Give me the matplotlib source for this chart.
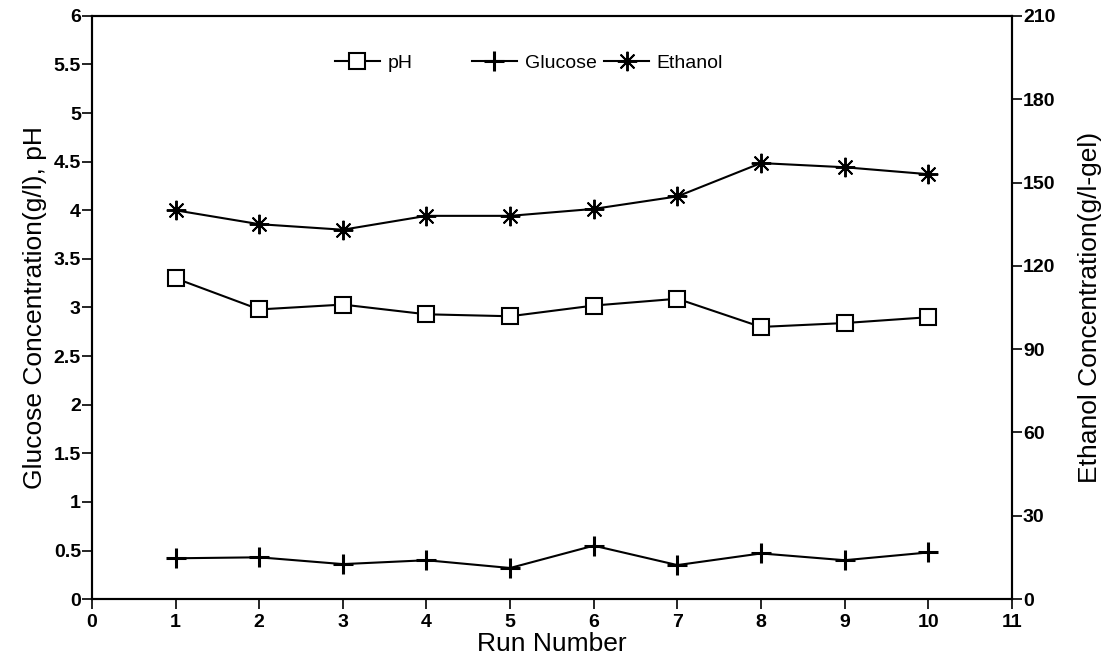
import matplotlib
matplotlib.use("Agg")
import matplotlib.pyplot as plt
from matplotlib.ticker import FormatStrFormatter

plt.rcParams['font.family'] = ['Liberation Sans', 'DejaVu Sans']

runs = [1, 2, 3, 4, 5, 6, 7, 8, 9, 10]
ph = [3.30, 2.98, 3.03, 2.93, 2.91, 3.02, 3.09, 2.80, 2.84, 2.90]
glucose = [0.42, 0.43, 0.36, 0.40, 0.32, 0.55, 0.35, 0.47, 0.40, 0.48]
ethanol = [140, 135, 133, 138, 138, 140.5, 145, 157, 155.5, 153]

fig = plt.figure(figsize=(11.15, 6.62), dpi=100)
ax = fig.add_axes([0.0825, 0.095, 0.825, 0.881])
ax2 = ax.twinx()

l1, = ax.plot(runs, ph, color='black', lw=1.5, marker='s', ms=12,
              mfc='white', mec='black', mew=1.5, label='pH')
l2, = ax.plot(runs, glucose, color='black', lw=1.5, marker='+', ms=14,
              mew=2.2, label='Glucose')
l3, = ax2.plot(runs, ethanol, color='black', lw=1.5, marker=(8, 2, 0), ms=14,
               mew=1.4, label='Ethanol')

ax.set_xlim(0, 11)
ax.set_ylim(0, 6)
ax2.set_ylim(0, 210)
ax.set_xticks(range(0, 12))
ax.set_yticks([i * 0.5 for i in range(13)])
ax2.set_yticks(range(0, 211, 30))
ax.yaxis.set_major_formatter(FormatStrFormatter('%g'))

for a in (ax, ax2):
    a.tick_params(direction='out', length=7, width=1.2, labelsize=14, colors='black')
    for lab in a.get_xticklabels() + a.get_yticklabels():
        lab.set_fontweight('bold')
    for s in a.spines.values():
        s.set_linewidth(1.5)
ax.tick_params(axis='y', pad=1)
ax2.tick_params(axis='y', pad=1)

ax.set_xlabel('Run Number', fontsize=19, labelpad=1)
ax.set_ylabel('Glucose Concentration(g/l), pH', fontsize=19, labelpad=5)
ax2.set_ylabel('Ethanol Concentration(g/l-gel)', fontsize=19, labelpad=16)

# legend split in two: wide gap after pH, tight gap between Glucose and Ethanol
leg_kw = dict(loc='center left', frameon=False, fontsize=14, handlelength=2.3,
              handletextpad=0.4, borderpad=0, borderaxespad=0,
              bbox_transform=fig.transFigure)
leg1 = ax2.legend(handles=[l1], bbox_to_anchor=(335 / 1115, 0.905), **leg_kw)
ax2.add_artist(leg1)
ax2.legend(handles=[l2, l3], bbox_to_anchor=(472 / 1115, 0.905), ncol=2,
           columnspacing=0.4, **leg_kw)

fig.savefig('out.png', dpi=100)
